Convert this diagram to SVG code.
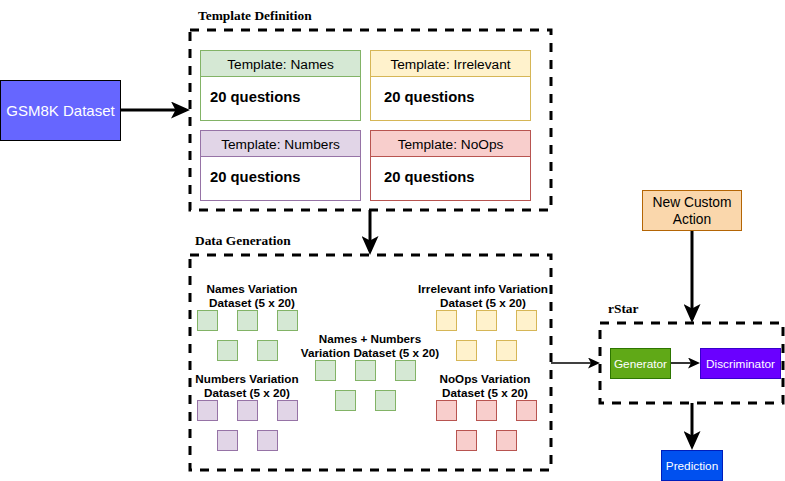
<svg xmlns="http://www.w3.org/2000/svg" width="785" height="481" viewBox="0 0 785 481">
<style>
.sans{font-family:"Liberation Sans",Arial,Helvetica,sans-serif}
.title{font-family:"Liberation Serif","Times New Roman",serif;font-weight:bold;font-size:13.4px;fill:#000}
.group{fill:none;stroke:#000;stroke-width:3;stroke-dasharray:9 8}
.hdr{font-family:"Liberation Sans",Arial,sans-serif;font-size:13.7px;fill:#000;text-anchor:middle}
.q{font-family:"Liberation Sans",Arial,sans-serif;font-size:14.8px;font-weight:bold;fill:#000}
.lbl{font-family:"Liberation Sans",Arial,sans-serif;font-size:11.7px;font-weight:bold;fill:#000;text-anchor:middle}
.wt{font-family:"Liberation Sans",Arial,sans-serif;font-size:11.8px;fill:#fff;text-anchor:middle}
.g{fill:#d5e8d4;stroke:#82b366}
.y{fill:#fff2cc;stroke:#d6b656}
.p{fill:#e1d5e7;stroke:#9673a6}
.r{fill:#f8cecc;stroke:#b85450}
.thick{fill:none;stroke:#000;stroke-width:3}
.thin{fill:none;stroke:#000;stroke-width:1.6}
</style>
<defs>
<marker id="ah" markerUnits="userSpaceOnUse" viewBox="0 0 19 17" markerWidth="19" markerHeight="17" refX="15" refY="8.5" orient="auto">
<path d="M0,0 L19,8.5 L0,17 L4.5,8.5 Z" fill="#000"/>
</marker>
<marker id="as" markerUnits="userSpaceOnUse" viewBox="0 0 12 11" markerWidth="12" markerHeight="11" refX="9" refY="5.5" orient="auto">
<path d="M0,0 L12,5.5 L0,11 L3,5.5 Z" fill="#000"/>
</marker>
</defs>

<g id="connectors">
<path class="thick" d="M120,110 L186,110" marker-end="url(#ah)"/>
<path class="thick" d="M370,210 L370,251" marker-end="url(#ah)"/>
<path class="thin" d="M551,363 L597,363" marker-end="url(#as)"/>
<path class="thin" d="M671,363 L697,363" marker-end="url(#as)"/>
<path class="thick" d="M692,231 L692,319" marker-end="url(#ah)"/>
<path class="thick" d="M692,403 L692,446" marker-end="url(#ah)"/>
</g>

<g id="gsm8k">
<rect x="0.5" y="80.5" width="120" height="60" fill="#6666ff" stroke="#000"/>
<text class="sans" x="60.5" y="115.5" font-size="15" fill="#fff" text-anchor="middle">GSM8K Dataset</text>
</g>

<g id="template-definition">
<text class="title" x="198" y="20">Template Definition</text>
<rect class="group" x="190" y="30" width="361" height="180"/>
</g>

<g id="template-names">
<rect x="200.5" y="50.5" width="160" height="70" fill="#fff" stroke="#82b366"/>
<rect x="200.5" y="50.5" width="160" height="26" class="g"/>
<text class="hdr" x="280.5" y="68.5">Template: Names</text>
<text class="q" x="210" y="101.5">20 questions</text>
</g>
<g id="template-irrelevant">
<rect x="370.5" y="50.5" width="160" height="70" fill="#fff" stroke="#d6b656"/>
<rect x="370.5" y="50.5" width="160" height="26" class="y"/>
<text class="hdr" x="450.5" y="68.5">Template: Irrelevant</text>
<text class="q" x="384" y="101.5">20 questions</text>
</g>
<g id="template-numbers">
<rect x="200.5" y="130.5" width="160" height="70" fill="#fff" stroke="#9673a6"/>
<rect x="200.5" y="130.5" width="160" height="26" class="p"/>
<text class="hdr" x="280.5" y="148.5">Template: Numbers</text>
<text class="q" x="210" y="181.5">20 questions</text>
</g>
<g id="template-noops">
<rect x="370.5" y="130.5" width="160" height="70" fill="#fff" stroke="#b85450"/>
<rect x="370.5" y="130.5" width="160" height="26" class="r"/>
<text class="hdr" x="450.5" y="148.5">Template: NoOps</text>
<text class="q" x="384" y="181.5">20 questions</text>
</g>

<g id="data-generation">
<text class="title" x="195" y="245">Data Generation</text>
<rect class="group" x="190" y="255" width="361" height="215"/>
</g>

<g id="names-variation">
<text class="lbl" x="252" y="293">Names Variation</text>
<text class="lbl" x="252" y="307">Dataset (5 x 20)</text>
<rect class="g" x="197.5" y="310.5" width="20" height="20"/>
<rect class="g" x="237.5" y="310.5" width="20" height="20"/>
<rect class="g" x="277.5" y="310.5" width="20" height="20"/>
<rect class="g" x="217.5" y="340.5" width="20" height="20"/>
<rect class="g" x="257.5" y="340.5" width="20" height="20"/>
</g>

<g id="numbers-variation">
<text class="lbl" x="247" y="383">Numbers Variation</text>
<text class="lbl" x="247" y="397">Dataset (5 x 20)</text>
<rect class="p" x="197.5" y="400.5" width="20" height="20"/>
<rect class="p" x="237.5" y="400.5" width="20" height="20"/>
<rect class="p" x="277.5" y="400.5" width="20" height="20"/>
<rect class="p" x="217.5" y="430.5" width="20" height="20"/>
<rect class="p" x="257.5" y="430.5" width="20" height="20"/>
</g>

<g id="names-numbers-variation">
<text class="lbl" x="370" y="343">Names + Numbers</text>
<text class="lbl" x="370" y="357">Variation Dataset (5 x 20)</text>
<rect class="g" x="315.5" y="360.5" width="20" height="20"/>
<rect class="g" x="355.5" y="360.5" width="20" height="20"/>
<rect class="g" x="395.5" y="360.5" width="20" height="20"/>
<rect class="g" x="335.5" y="390.5" width="20" height="20"/>
<rect class="g" x="375.5" y="390.5" width="20" height="20"/>
</g>

<g id="irrelevant-variation">
<text class="lbl" x="483" y="293">Irrelevant info Variation</text>
<text class="lbl" x="483" y="307">Dataset (5 x 20)</text>
<rect class="y" x="436.5" y="310.5" width="20" height="20"/>
<rect class="y" x="476.5" y="310.5" width="20" height="20"/>
<rect class="y" x="516.5" y="310.5" width="20" height="20"/>
<rect class="y" x="456.5" y="340.5" width="20" height="20"/>
<rect class="y" x="496.5" y="340.5" width="20" height="20"/>
</g>

<g id="noops-variation">
<text class="lbl" x="485" y="383">NoOps Variation</text>
<text class="lbl" x="485" y="397">Dataset (5 x 20)</text>
<rect class="r" x="436.5" y="400.5" width="20" height="20"/>
<rect class="r" x="476.5" y="400.5" width="20" height="20"/>
<rect class="r" x="516.5" y="400.5" width="20" height="20"/>
<rect class="r" x="456.5" y="430.5" width="20" height="20"/>
<rect class="r" x="496.5" y="430.5" width="20" height="20"/>
</g>

<g id="new-custom-action">
<rect x="642.5" y="190.5" width="99" height="40" fill="#fad7ac" stroke="#b46504"/>
<text class="sans" x="692" y="207" font-size="13.8" text-anchor="middle">New Custom</text>
<text class="sans" x="692" y="224" font-size="13.8" text-anchor="middle">Action</text>
</g>

<g id="rstar">
<text class="title" x="608" y="313">rStar</text>
<rect class="group" x="600" y="323" width="183" height="80"/>
</g>

<g id="generator">
<rect x="610.5" y="348.5" width="60" height="30" fill="#60a917" stroke="#2d7600"/>
<text class="wt" x="640.5" y="367.5">Generator</text>
</g>

<g id="discriminator">
<rect x="700.5" y="348.5" width="80" height="30" fill="#6a00ff" stroke="#3700cc"/>
<text class="wt" x="740.5" y="367.5">Discriminator</text>
</g>

<g id="prediction">
<rect x="661.5" y="450.5" width="61" height="30" fill="#0050ef" stroke="#001dbc"/>
<text class="wt" x="692" y="469.5">Prediction</text>
</g>
</svg>
